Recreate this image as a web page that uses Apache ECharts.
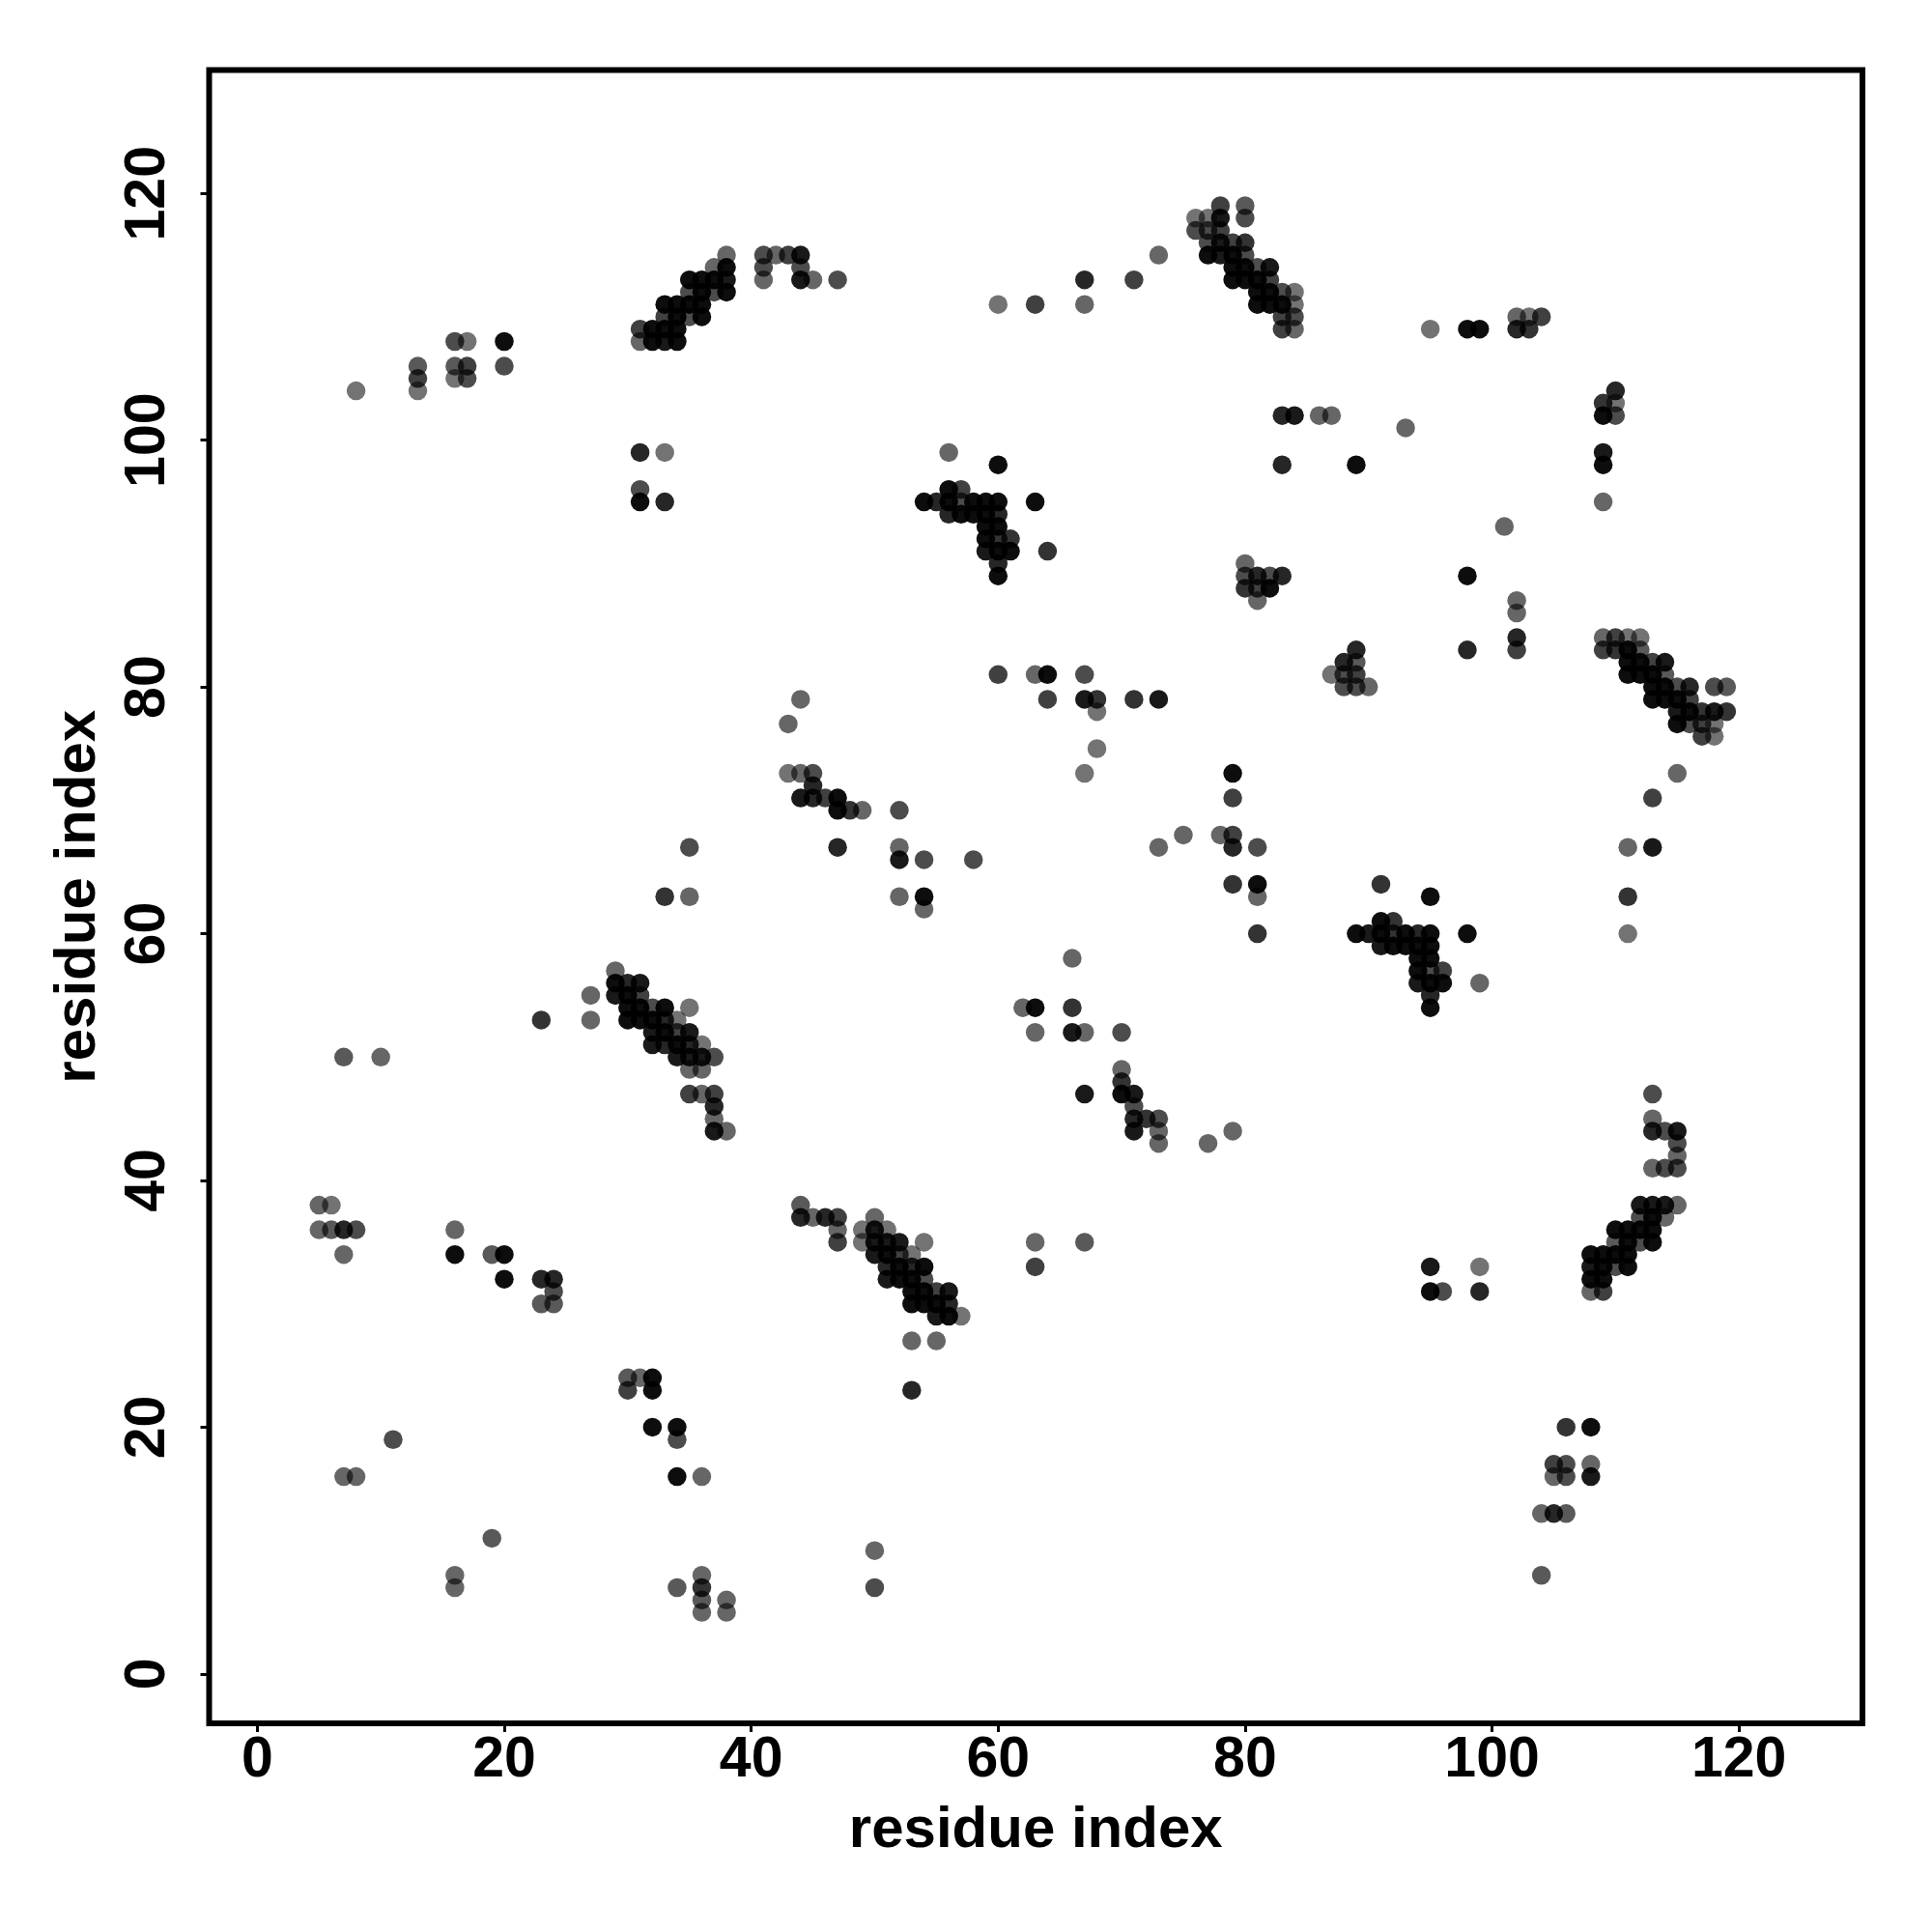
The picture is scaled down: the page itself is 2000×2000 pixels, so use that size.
<!DOCTYPE html>
<html>
<head>
<meta charset="utf-8">
<style>html,body{margin:0;padding:0;background:#fff}#c{width:2000px;height:2000px}</style>
<script src="https://cdn.jsdelivr.net/npm/echarts@6/dist/echarts.min.js"></script>
</head>
<body>
<div id="c"></div>
<script>
// Each entry: [residue x, residue y, contact strength]
const helixA = [[29,57,.6],[29,56,.95],[30,56,.85],[31,56,.9],[27,55,.6],[29,55,.9],[30,55,1],[31,55,.75],[30,54,.95],[31,54,1],[32,54,.7],[33,54,1],[35,54,.55],[27,53,.6],[30,53,.95],[31,53,.95],[32,53,1],[33,53,.85],[34,53,.55],[32,52,.9],[33,52,1],[34,52,.75],[35,52,.9],[32,51,.9],[33,51,.85],[34,51,1],[35,51,.85],[36,51,.55],[34,50,.9],[35,50,.9],[36,50,.9],[37,50,.7],[35,49,.6],[36,49,.6],[35,47,.75],[36,47,.6],[37,47,.75],[37,46,.85],[37,45,.6],[37,44,.9],[38,44,.6]];
const helixB = [[44,38,.65],[44,37,.85],[45,37,.6],[46,37,.85],[47,37,.75],[50,37,.6],[47,36,.6],[49,36,.55],[50,36,.9],[51,36,.55],[47,35,.75],[49,35,.55],[50,35,.9],[51,35,.9],[52,35,.9],[54,35,.55],[50,34,.9],[51,34,1],[52,34,.75],[53,34,.55],[51,33,.85],[52,33,1],[53,33,.85],[54,33,1],[51,32,.9],[52,32,.95],[53,32,1],[54,32,.7],[53,31,1],[54,31,1],[55,31,.75],[56,31,.9],[53,30,1],[54,30,1],[55,30,1],[56,30,.85],[55,29,.9],[56,29,.95],[57,29,.55],[53,27,.6],[55,27,.6]];
const helixC = [[38,115,.6],[41,115,.7],[42,115,.6],[43,115,.75],[44,115,.9],[37,114,.6],[38,114,.95],[41,114,.7],[44,114,.7],[35,113,.95],[36,113,.95],[37,113,.95],[38,113,.9],[41,113,.6],[44,113,.9],[45,113,.6],[47,113,.7],[35,112,.7],[36,112,1],[37,112,.7],[38,112,.95],[33,111,.95],[34,111,.95],[35,111,1],[36,111,.95],[33,110,.75],[34,110,1],[35,110,.7],[36,110,.95],[31,109,.75],[32,109,.95],[33,109,.95],[34,109,.95],[31,108,.6],[32,108,.95],[33,108,.9],[34,108,.95]];
const helixD = [[78,119,.75],[80,119,.65],[76,118,.55],[77,118,.55],[78,118,.9],[80,118,.7],[76,117,.7],[77,117,.7],[78,117,.75],[77,116,.7],[78,116,.9],[79,116,.75],[80,116,.8],[77,115,.95],[78,115,.9],[79,115,1],[80,115,.7],[79,114,1],[80,114,1],[81,114,.7],[82,114,.9],[79,113,.95],[80,113,.95],[81,113,1],[82,113,.75],[81,112,1],[82,112,1],[83,112,.7],[84,112,.55],[81,111,1],[82,111,.95],[83,111,1],[84,111,.55],[83,110,.75],[84,110,.7],[83,109,.75],[84,109,.6]];
const helixE = [[113,47,.7],[113,45,.6],[113,44,.85],[114,44,.7],[115,44,.9],[115,43,.7],[115,42,.6],[113,41,.6],[114,41,.7],[115,41,.7],[112,38,.9],[113,38,.9],[114,38,.9],[115,38,.6],[112,37,.7],[113,37,1],[114,37,.6],[110,36,.95],[111,36,.95],[112,36,.95],[113,36,.95],[110,35,.65],[111,35,1],[112,35,.7],[113,35,.95],[108,34,.95],[109,34,.95],[110,34,1],[111,34,.95],[108,33,.9],[109,33,1],[110,33,.7],[111,33,.95],[108,32,.95],[109,32,.95],[108,31,.6],[109,31,.75]];
const helixF = [[109,84,.6],[110,84,.75],[111,84,.55],[112,84,.55],[109,83,.75],[110,83,.8],[111,83,1],[112,83,.65],[111,82,1],[112,82,1],[113,82,.75],[114,82,.9],[111,81,1],[112,81,1],[113,81,1],[114,81,.65],[113,80,1],[114,80,1],[115,80,.7],[116,80,.85],[118,80,.7],[119,80,.65],[113,79,1],[114,79,1],[115,79,1],[116,79,.75],[115,78,.9],[116,78,.95],[117,78,.8],[118,78,.9],[119,78,.8],[115,77,.95],[116,77,.7],[117,77,.75],[118,77,.55],[117,76,.75],[118,76,.55]];
const turnG = [[56,99,.6],[60,98,.95],[56,96,1],[57,96,.75],[54,95,1],[55,95,.85],[56,95,1],[57,95,.7],[58,95,1],[59,95,.95],[60,95,1],[63,95,1],[56,94,.85],[57,94,.95],[58,94,1],[59,94,1],[60,94,.85],[59,93,1],[60,93,1],[59,92,.95],[60,92,.8],[61,92,.8],[59,91,.9],[60,91,1],[61,91,1],[64,91,.8],[60,90,.85],[60,89,1]];
const turnH = [[91,64,.8],[95,63,1],[91,61,1],[92,61,.8],[89,60,1],[90,60,.9],[91,60,1],[92,60,.8],[93,60,1],[94,60,.85],[95,60,1],[98,60,.95],[91,59,.9],[92,59,1],[93,59,1],[94,59,1],[95,59,.95],[94,58,1],[95,58,1],[94,57,.95],[95,57,.7],[96,57,.75],[94,56,.9],[95,56,1],[96,56,1],[99,56,.6],[95,55,.85],[95,54,1]];
const upperSparse = [[8,104,.55],[13,106,.65],[13,105,.75],[13,104,.55],[16,108,.7],[17,108,.55],[16,106,.65],[17,106,.75],[16,105,.55],[17,105,.7],[20,108,1],[20,106,.7],[60,111,.55],[63,111,.75],[67,113,.85],[67,111,.6],[71,113,.75],[73,115,.6],[95,109,.55],[98,109,.95],[99,109,.95],[102,110,.6],[103,110,.55],[104,110,.75],[102,109,.85],[103,109,.8],[83,102,.85],[84,102,.9],[86,102,.6],[87,102,.6],[93,101,.6],[83,98,.85],[89,98,1],[110,104,.85],[109,103,.8],[110,103,.55],[109,102,.95],[110,102,.7],[109,99,.9],[109,98,.95],[109,95,.6],[31,99,.85],[33,99,.55],[31,96,.7],[31,95,1],[33,95,.85],[101,93,.6],[98,89,1],[98,83,.85],[102,87,.6],[102,86,.6],[102,84,.85],[102,83,.75]];
const middleSparse = [[80,90,.6],[80,89,.7],[81,89,.85],[82,89,.7],[83,89,.85],[80,88,.8],[81,88,.75],[82,88,.95],[81,87,.6],[89,83,.85],[88,82,.85],[89,82,.65],[87,81,.55],[88,81,.7],[89,81,.75],[88,80,.7],[89,80,.7],[90,80,.6],[60,81,.75],[63,81,.6],[64,81,.95],[67,81,.7],[64,79,.75],[67,79,.9],[68,79,.8],[71,79,.8],[73,79,.9],[68,78,.55],[68,75,.55],[67,73,.55],[43,77,.6],[44,79,.6],[43,73,.55],[44,73,.6],[45,73,.7],[45,72,.85],[44,71,.9],[45,71,.85],[46,71,.75],[47,71,1],[47,70,1],[48,70,.8],[49,70,.6],[52,70,.7],[47,67,.85],[52,67,.6],[52,66,.9],[54,66,.7],[58,66,.7],[52,63,.6],[54,63,1],[54,62,.6],[35,67,.7],[33,63,.8],[35,63,.6],[79,73,1],[79,71,.75],[73,67,.6],[75,68,.6],[78,68,.6],[79,68,.75],[79,67,.85],[81,67,.7],[79,64,.8],[81,64,.95],[81,63,.6],[81,60,.8],[111,67,.6],[113,67,.9],[113,71,.75],[115,73,.6],[111,63,.8],[111,60,.55]];
const lowerSparse = [[66,58,.6],[62,54,.6],[63,54,1],[66,54,.8],[63,52,.6],[66,52,.9],[67,52,.6],[70,52,.7],[70,49,.6],[70,48,.8],[70,47,.95],[71,47,.9],[67,47,.9],[71,46,.7],[71,45,.85],[72,45,.8],[73,45,.7],[71,44,.9],[73,44,.6],[73,43,.6],[77,43,.6],[79,44,.6],[23,53,.8],[7,50,.65],[10,50,.6],[5,38,.6],[6,38,.55],[5,36,.6],[6,36,.65],[7,36,.85],[8,36,.7],[7,34,.6],[16,36,.6],[16,34,1],[19,34,.65],[20,34,.95],[20,32,.95],[23,32,.85],[24,32,.85],[24,31,.7],[23,30,.65],[24,30,.65],[63,35,.6],[67,35,.65],[63,33,.75],[95,33,.9],[99,33,.55],[95,31,.95],[96,31,.7],[99,31,.85],[30,24,.65],[31,24,.6],[32,24,1],[30,23,.75],[32,23,1],[32,20,1],[34,20,1],[34,19,.7],[34,16,1],[36,16,.6],[53,23,.85],[11,19,.7],[7,16,.6],[8,16,.6],[19,11,.65],[16,8,.6],[16,7,.6],[34,7,.65],[36,8,.6],[36,7,.8],[36,6,.65],[36,5,.6],[38,6,.6],[38,5,.6],[50,10,.6],[50,7,.7],[106,20,.8],[108,20,1],[105,17,.75],[106,17,.7],[108,17,.6],[105,16,.6],[106,16,.7],[108,16,.9],[104,13,.6],[105,13,.85],[106,13,.65],[104,8,.65]];
const tickValues = [0, 20, 40, 60, 80, 100, 120];
const axisTitle = 'residue index';

const allPoints = [].concat(helixA, helixB, helixC, helixD, helixE, helixF, turnG, turnH, upperSparse, middleSparse, lowerSparse);
const FONT = '"Liberation Sans", Arial, sans-serif';

function axis(extra) {
  return Object.assign({
    type: 'value',
    name: axisTitle,
    nameLocation: 'middle',
    nameTextStyle: { fontFamily: FONT, fontWeight: 'bold', fontSize: 60, color: '#000' },
    axisLine: { show: false, onZero: false },
    axisTick: { show: true, inside: false, length: 9, customValues: tickValues, lineStyle: { color: '#000', width: 3 } },
    splitLine: { show: false }
  }, extra);
}

const chart = echarts.init(document.getElementById('c'), null, { width: 2000, height: 2000, renderer: 'canvas' });
chart.setOption({
  animation: false,
  backgroundColor: '#fff',
  grid: { show: true, left: 216.5, right: 72, top: 72.5, bottom: 216, borderColor: '#000', borderWidth: 6, backgroundColor: 'transparent', containLabel: false },
  xAxis: axis({
    min: -3.9, max: 130, nameGap: 81,
    axisLabel: { customValues: tickValues, margin: 9, fontFamily: FONT, fontWeight: 'bold', fontSize: 59, color: '#000', showMinLabel: true, showMaxLabel: true }
  }),
  yAxis: axis({
    min: -4, max: 130, nameGap: 105,
    axisLabel: { customValues: tickValues, rotate: 90, margin: 63, fontFamily: FONT, fontWeight: 'bold', fontSize: 59, color: '#000', align: 'center', verticalAlign: 'middle' }
  }),
  series: [{
    type: 'scatter',
    symbol: 'circle',
    symbolSize: 19.5,
    large: false,
    itemStyle: { opacity: 1 },
    data: allPoints.map(p => ({ value: [p[0], p[1]], itemStyle: { color: 'rgba(0,0,0,' + Math.min(p[2], 0.95) + ')', opacity: 1 } })),
    emphasis: { disabled: true }
  }]
});
</script>
</body>
</html>
